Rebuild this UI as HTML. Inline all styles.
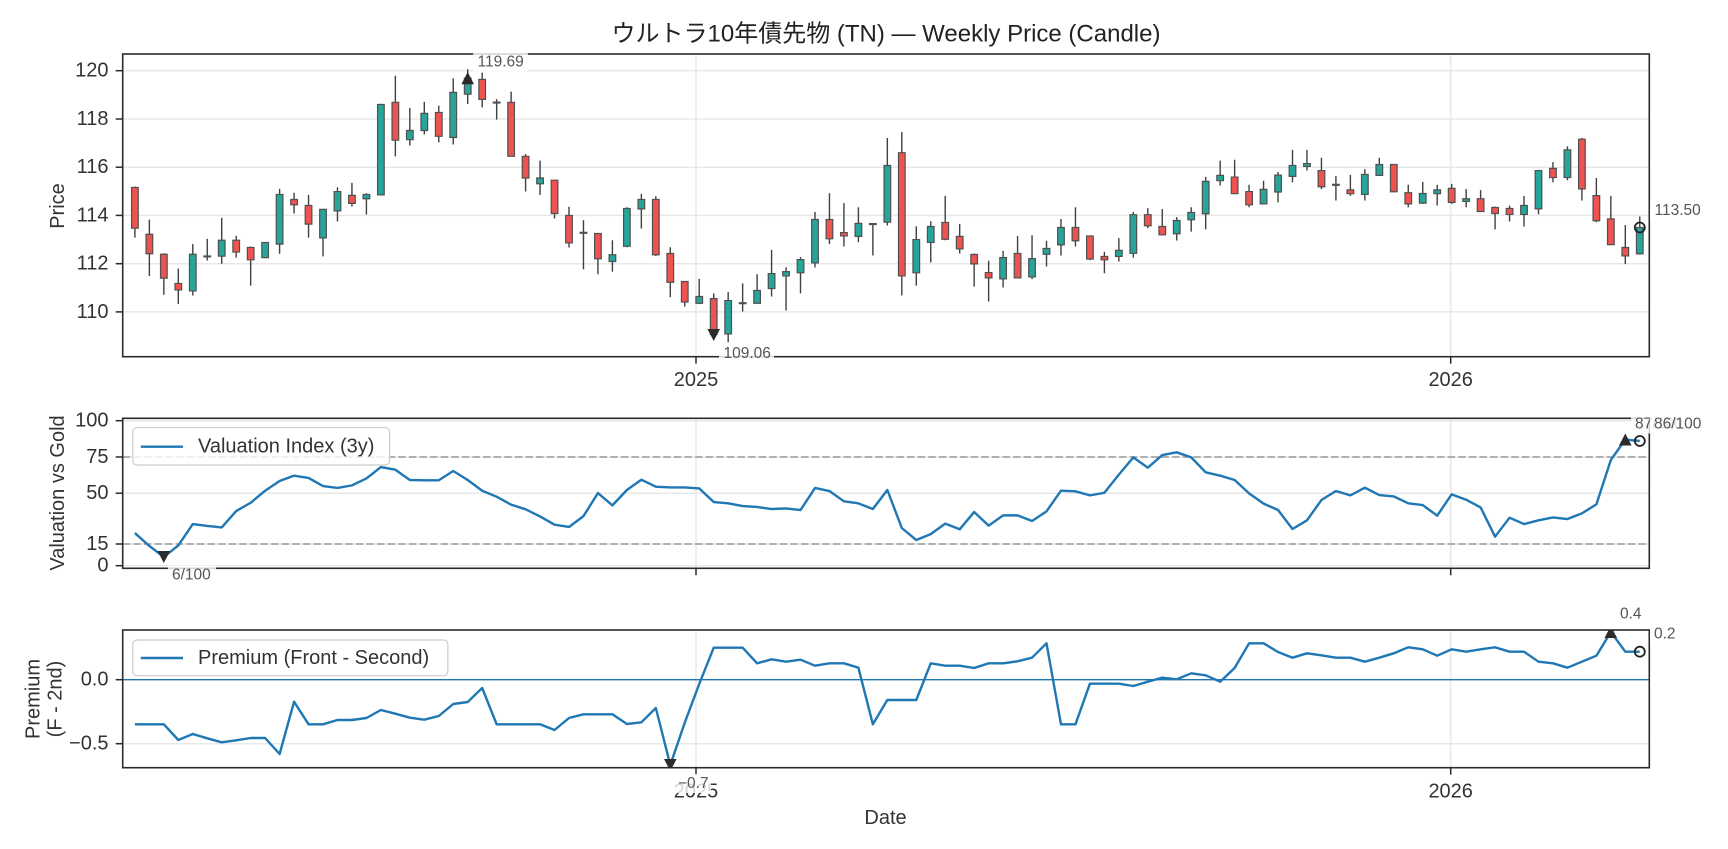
<!DOCTYPE html>
<html><head><meta charset="utf-8">
<style>
html,body{margin:0;padding:0;background:#fff;}
svg{display:block;}
text{font-family:"Liberation Sans","Noto Sans CJK JP",sans-serif;}
</style></head>
<body>
<svg width="1728" height="849" viewBox="0 0 1728 849" xmlns="http://www.w3.org/2000/svg">
<defs>
<clipPath id="c1"><rect x="122.7" y="54" width="1526.6" height="302.7"/></clipPath>
<clipPath id="c2"><rect x="122.7" y="418.3" width="1526.6" height="150"/></clipPath>
<clipPath id="c3"><rect x="122.7" y="630" width="1526.6" height="137.7"/></clipPath>
</defs>
<rect width="1728" height="849" fill="#fff"/>

<!-- Title -->
<text x="886" y="34" font-size="24" fill="#222" text-anchor="middle" dominant-baseline="central">ウルトラ10年債先物 (TN) — Weekly Price (Candle)</text>

<!-- ============ TOP PANEL ============ -->
<g stroke="#e8e8e8" stroke-width="1.5">
<line x1="122.7" x2="1649.3" y1="311.9" y2="311.9"/>
<line x1="122.7" x2="1649.3" y1="263.7" y2="263.7"/>
<line x1="122.7" x2="1649.3" y1="215.4" y2="215.4"/>
<line x1="122.7" x2="1649.3" y1="167.2" y2="167.2"/>
<line x1="122.7" x2="1649.3" y1="119.0" y2="119.0"/>
<line x1="122.7" x2="1649.3" y1="70.7" y2="70.7"/>
<line x1="696" x2="696" y1="54" y2="356.7"/>
<line x1="1450.7" x2="1450.7" y1="54" y2="356.7"/>
</g>
<g clip-path="url(#c1)">
<g transform="matrix(14.47 0 0 -24.12 134.9 2965.1)">
<path fill="none" stroke="#404040" stroke-width="1.4" vector-effect="non-scaling-stroke" d="M0 113.08V115.2M1 111.49V113.82M2 110.71V112.43M3 110.32V111.8M4 110.68V112.81M5 112.13V113.03M6 111.99V113.9M7 112.25V113.15M8 111.09V112.71M9 112.23V112.9M10 112.41V115.1M11 114.08V114.94M12 113.08V114.85M13 112.3V114.27M14 113.75V115.17M15 114.37V115.35M16 114.04V114.92M17 114.85V118.63M18 116.45V119.79M19 116.9V118.46M20 117.36V118.71M21 117.03V118.55M22 116.94V119.68M23 118.62V120.06M24 118.48V119.92M25 117.97V118.82M26 116.45V119.13M27 114.99V116.54M28 114.85V116.27M29 113.87V115.46M30 112.67V114.36M31 111.77V113.8M32 111.56V113.25M33 111.67V112.97M34 112.68V114.34M35 113.46V114.9M36 112.31V114.8M37 110.61V112.68M38 110.22V111.26M39 110.32V111.37M40 109.06V110.77M41 108.74V110.82M42 110.01V111.19M43 110.36V111.56M44 110.64V112.57M45 110.06V111.85M46 110.77V112.27M47 111.84V114.14M48 112.81V114.92M49 112.71V114.51M50 112.89V114.34M51 112.34V113.68M52 113.58V117.21M53 110.68V117.46M54 111.09V113.55M55 112.05V113.76M56 112.97V114.81M57 112.42V113.65M58 111.05V112.42M59 110.43V112.12M60 111.01V112.53M61 111.41V113.14M62 111.36V113.18M63 111.88V112.95M64 112.34V113.85M65 112.71V114.34M66 112.14V113.15M67 111.6V112.49M68 112.09V113.06M69 112.25V114.14M70 113.47V114.3M71 113.17V114.26M72 112.96V113.93M73 113.33V114.34M74 113.42V115.6M75 115.24V116.27M76 114.9V116.31M77 114.34V115.27M78 114.48V115.44M79 114.54V115.8M80 115.37V116.72M81 115.86V116.72M82 115.09V116.39M83 114.62V115.64M84 114.81V115.68M85 114.62V115.92M86 115.66V116.39M87 114.98V116.11M88 114.34V115.27M89 114.48V115.39M90 114.41V115.27M91 114.48V115.31M92 114.34V115.09M93 114.14V115.05M94 113.42V114.37M95 113.75V114.41M96 113.54V114.81M97 114.05V115.89M98 115.37V116.21M99 115.46V116.86M100 114.62V117.21M101 113.72V115.55M102 112.79V114.81M103 111.98V113.6M104 112.37V113.96"/>
<path fill="#26a69a" stroke="#505050" stroke-width="1.2" vector-effect="non-scaling-stroke" d="M3.77 110.87H4.23V112.39H3.77ZM4.77 112.28H5.23V112.32H4.77ZM5.77 112.31H6.23V112.97H5.77ZM8.77 112.25H9.23V112.88H8.77ZM9.77 112.81H10.23V114.87H9.77ZM12.77 113.07H13.23V114.25H12.77ZM13.77 114.19H14.23V114.99H13.77ZM15.77 114.69H16.23V114.87H15.77ZM16.77 114.85H17.23V118.6H16.77ZM18.77 117.14H19.23V117.52H18.77ZM19.77 117.52H20.23V118.23H19.77ZM21.77 117.23H22.23V119.1H21.77ZM22.77 119.03H23.23V119.69H22.77ZM24.77 118.66H25.23V118.7H24.77ZM27.77 115.31H28.23V115.55H27.77ZM30.77 113.26H31.23V113.3H30.77ZM32.77 112.09H33.23V112.37H32.77ZM33.77 112.72H34.23V114.29H33.77ZM34.77 114.27H35.23V114.66H34.77ZM38.77 110.36H39.23V110.64H38.77ZM40.77 109.09H41.23V110.47H40.77ZM41.77 110.34H42.23V110.38H41.77ZM42.77 110.36H43.23V110.89H42.77ZM43.77 110.97H44.23V111.59H43.77ZM44.77 111.49H45.23V111.67H44.77ZM45.77 111.62H46.23V112.17H45.77ZM46.77 112.03H47.23V113.83H46.77ZM49.77 113.13H50.23V113.67H49.77ZM51.77 113.72H52.23V116.07H51.77ZM53.77 111.62H54.23V113H53.77ZM54.77 112.88H55.23V113.54H54.77ZM59.77 111.37H60.23V112.25H59.77ZM61.77 111.45H62.23V112.21H61.77ZM62.77 112.39H63.23V112.63H62.77ZM63.77 112.78H64.23V113.5H63.77ZM67.77 112.3H68.23V112.55H67.77ZM68.77 112.43H69.23V114.03H68.77ZM71.77 113.24H72.23V113.79H71.77ZM72.77 113.82H73.23V114.12H72.77ZM73.77 114.07H74.23V115.41H73.77ZM74.77 115.44H75.23V115.66H74.77ZM77.77 114.48H78.23V115.08H77.77ZM78.77 114.97H79.23V115.67H78.77ZM79.77 115.62H80.23V116.07H79.77ZM80.77 116.03H81.23V116.15H80.77ZM82.77 115.25H83.23V115.29H82.77ZM84.77 114.87H85.23V115.7H84.77ZM85.77 115.66H86.23V116.11H85.77ZM88.77 114.51H89.23V114.91H88.77ZM89.77 114.9H90.23V115.06H89.77ZM91.77 114.58H92.23V114.69H91.77ZM95.77 114.04H96.23V114.41H95.77ZM96.77 114.27H97.23V115.86H96.77ZM98.77 115.57H99.23V116.72H98.77ZM103.77 112.41H104.23V113.5H103.77Z"/>
<path fill="#ef5350" stroke="#505050" stroke-width="1.2" vector-effect="non-scaling-stroke" d="M-0.23 115.16H0.23V113.47H-0.23ZM0.77 113.22H1.23V112.41H0.77ZM1.77 112.39H2.23V111.4H1.77ZM2.77 111.18H3.23V110.91H2.77ZM6.77 112.97H7.23V112.48H6.77ZM7.77 112.67H8.23V112.16H7.77ZM10.77 114.66H11.23V114.44H10.77ZM11.77 114.41H12.23V113.64H11.77ZM14.77 114.83H15.23V114.5H14.77ZM17.77 118.69H18.23V117.12H17.77ZM20.77 118.27H21.23V117.28H20.77ZM23.77 119.64H24.23V118.81H23.77ZM25.77 118.69H26.23V116.45H25.77ZM26.77 116.45H27.23V115.55H26.77ZM28.77 115.46H29.23V114.08H28.77ZM29.77 114H30.23V112.86H29.77ZM31.77 113.25H32.23V112.2H31.77ZM35.77 114.66H36.23V112.37H35.77ZM36.77 112.42H37.23V111.23H36.77ZM37.77 111.26H38.23V110.41H37.77ZM39.77 110.55H40.23V109.06H39.77ZM47.77 113.83H48.23V113.03H47.77ZM48.77 113.29H49.23V113.15H48.77ZM50.77 113.66H51.23V113.62H50.77ZM52.77 116.6H53.23V111.49H52.77ZM55.77 113.71H56.23V113.01H55.77ZM56.77 113.13H57.23V112.61H56.77ZM57.77 112.38H58.23V111.99H57.77ZM58.77 111.63H59.23V111.41H58.77ZM60.77 112.42H61.23V111.41H60.77ZM64.77 113.5H65.23V112.95H64.77ZM65.77 113.15H66.23V112.19H65.77ZM66.77 112.3H67.23V112.16H66.77ZM69.77 114.03H70.23V113.57H69.77ZM70.77 113.54H71.23V113.2H70.77ZM75.77 115.59H76.23V114.9H75.77ZM76.77 114.99H77.23V114.44H76.77ZM81.77 115.86H82.23V115.19H81.77ZM83.77 115.06H84.23V114.9H83.77ZM86.77 116.11H87.23V114.98H86.77ZM87.77 114.94H88.23V114.48H87.77ZM90.77 115.12H91.23V114.54H90.77ZM92.77 114.69H93.23V114.16H92.77ZM93.77 114.33H94.23V114.08H93.77ZM94.77 114.29H95.23V114.04H94.77ZM97.77 115.95H98.23V115.57H97.77ZM99.77 117.16H100.23V115.1H99.77ZM100.77 114.82H101.23V113.78H100.77ZM101.77 113.86H102.23V112.79H101.77ZM102.77 112.67H103.23V112.32H102.77Z"/>
</g>
<!-- markers -->
<polygon points="467.7,72 474,84.2 461.4,84.2" fill="#2b2b2b"/>
<polygon points="713.7,341 720,329 707.4,329" fill="#2b2b2b"/>
<circle cx="1639.8" cy="227.5" r="5" fill="none" stroke="#222" stroke-width="1.8"/>
</g>
<rect x="122.7" y="54" width="1526.6" height="302.7" fill="none" stroke="#2a2a2a" stroke-width="1.6"/>
<g stroke="#2a2a2a" stroke-width="1.5">
<line x1="115.7" x2="122.7" y1="311.9" y2="311.9"/>
<line x1="115.7" x2="122.7" y1="263.7" y2="263.7"/>
<line x1="115.7" x2="122.7" y1="215.4" y2="215.4"/>
<line x1="115.7" x2="122.7" y1="167.2" y2="167.2"/>
<line x1="115.7" x2="122.7" y1="119.0" y2="119.0"/>
<line x1="115.7" x2="122.7" y1="70.7" y2="70.7"/>
<line x1="696" x2="696" y1="356.7" y2="363.7"/>
<line x1="1450.7" x2="1450.7" y1="356.7" y2="363.7"/>
</g>
<g font-size="20" fill="#333" text-anchor="end" dominant-baseline="central">
<text x="108.5" y="311.9">110</text>
<text x="108.5" y="263.7">112</text>
<text x="108.5" y="215.4">114</text>
<text x="108.5" y="167.2">116</text>
<text x="108.5" y="119.0">118</text>
<text x="108.5" y="70.7">120</text>
</g>
<g font-size="20" fill="#333" text-anchor="middle" dominant-baseline="central">
<text x="696" y="380">2025</text>
<text x="1450.7" y="380">2026</text>
</g>
<text transform="translate(58,206) rotate(-90)" font-size="20" fill="#333" text-anchor="middle" dominant-baseline="central">Price</text>
<!-- annotations top -->
<g font-size="15.5" fill="#555" dominant-baseline="central">
<rect x="473" y="52.5" width="55" height="19" rx="2" fill="#fff" fill-opacity="0.8"/>
<text x="477.5" y="62">119.69</text>
<rect x="719" y="344" width="55" height="19" rx="2" fill="#fff" fill-opacity="0.8"/>
<text x="723.5" y="353.5">109.06</text>
<rect x="1650" y="201" width="55" height="19" rx="2" fill="#fff" fill-opacity="0.8"/>
<text x="1654.5" y="210.5">113.50</text>
</g>

<!-- ============ MIDDLE PANEL ============ -->
<g stroke="#e8e8e8" stroke-width="1.5">
<line x1="122.7" x2="1649.3" y1="420.7" y2="420.7"/>
<line x1="122.7" x2="1649.3" y1="457" y2="457"/>
<line x1="122.7" x2="1649.3" y1="493.2" y2="493.2"/>
<line x1="122.7" x2="1649.3" y1="544" y2="544"/>
<line x1="122.7" x2="1649.3" y1="565.7" y2="565.7"/>
<line x1="696" x2="696" y1="418.3" y2="568.3"/>
<line x1="1450.7" x2="1450.7" y1="418.3" y2="568.3"/>
</g>
<g stroke="#999" stroke-width="1.6" stroke-dasharray="7.4 3.2">
<line x1="122.7" x2="1649.3" y1="457" y2="457"/>
<line x1="122.7" x2="1649.3" y1="544" y2="544"/>
</g>
<g clip-path="url(#c2)">
<polyline transform="matrix(14.47 0 0 -1.45 134.9 565.7)" fill="none" stroke="#1f77b4" stroke-width="2.4" stroke-linejoin="round" vector-effect="non-scaling-stroke" points="0,22.5 1,13.6 2,6 3,14 4,28.7 5,27.4 6,26.4 7,37.7 8,43.4 9,51.7 10,58.4 11,62.1 12,60.5 13,54.9 14,53.6 15,55.4 16,60.2 17,68 18,66.2 19,59.1 20,58.9 21,58.9 22,65.3 23,59.1 24,51.7 25,47.6 26,42.1 27,38.9 28,34 29,28.3 30,26.7 31,34.2 32,50.1 33,41.6 34,52.2 35,59.3 36,54.5 37,54 38,54 39,53.3 40,43.9 41,43 42,41.1 43,40.5 44,39.1 45,39.5 46,38.4 47,53.6 48,51.5 49,44.4 50,43 51,39.1 52,52.2 53,26 54,17.7 55,21.8 56,29 57,25.1 58,37 59,27.6 60,34.7 61,34.7 62,30.8 63,37.5 64,51.7 65,51.3 66,48.5 67,50.3 68,62.8 69,74.7 70,67.6 71,76.3 72,78.2 73,74.7 74,64.4 75,62.1 76,59.1 77,49.9 78,42.8 79,38.4 80,25.3 81,31.3 82,45.3 83,51.5 84,48.5 85,53.8 86,48.7 87,47.8 88,43 89,41.8 90,34.5 91,49.2 92,45.5 93,40.2 94,20 95,33.1 96,28.7 97,31.3 98,33.3 99,32.2 100,36.1 101,42.3 102,72.9 103,87 104,86"/>
<polygon points="163.8,563 170.1,551 157.5,551" fill="#2b2b2b"/>
<polygon points="1625.3,433.5 1631.6,445.5 1619,445.5" fill="#2b2b2b"/>
<circle cx="1639.8" cy="441" r="5" fill="none" stroke="#222" stroke-width="1.8"/>
</g>
<rect x="122.7" y="418.3" width="1526.6" height="150" fill="none" stroke="#2a2a2a" stroke-width="1.6"/>
<g stroke="#2a2a2a" stroke-width="1.5">
<line x1="115.7" x2="122.7" y1="420.7" y2="420.7"/>
<line x1="115.7" x2="122.7" y1="457" y2="457"/>
<line x1="115.7" x2="122.7" y1="493.2" y2="493.2"/>
<line x1="115.7" x2="122.7" y1="544" y2="544"/>
<line x1="115.7" x2="122.7" y1="565.7" y2="565.7"/>
<line x1="696" x2="696" y1="568.3" y2="575.3"/>
<line x1="1450.7" x2="1450.7" y1="568.3" y2="575.3"/>
</g>
<g font-size="20" fill="#333" text-anchor="end" dominant-baseline="central">
<text x="108.5" y="420.7">100</text>
<text x="108.5" y="457">75</text>
<text x="108.5" y="493.2">50</text>
<text x="108.5" y="544">15</text>
<text x="108.5" y="565.7">0</text>
</g>
<text transform="translate(58,493) rotate(-90)" font-size="20" fill="#333" text-anchor="middle" dominant-baseline="central">Valuation vs Gold</text>
<!-- legend -->
<rect x="132.8" y="427.7" width="256.8" height="37.3" rx="4" fill="#fff" fill-opacity="0.8" stroke="#cccccc" stroke-width="1.2"/>
<line x1="140.8" x2="183" y1="446.7" y2="446.7" stroke="#1f77b4" stroke-width="2.4"/>
<text x="198" y="446.7" font-size="20" fill="#333" dominant-baseline="central">Valuation Index (3y)</text>
<!-- annotations -->
<g font-size="15.5" fill="#555" dominant-baseline="central">
<rect x="168" y="565.5" width="48" height="19" rx="2" fill="#fff" fill-opacity="0.8"/>
<text x="172" y="575">6/100</text>
<rect x="1631" y="414.5" width="55" height="19" rx="2" fill="#fff" fill-opacity="0.8"/>
<text x="1635" y="424">87/100</text>
<rect x="1650" y="414.5" width="55" height="19" rx="2" fill="#fff" fill-opacity="0.8"/>
<text x="1654" y="424">86/100</text>
</g>

<!-- ============ BOTTOM PANEL ============ -->
<g stroke="#e8e8e8" stroke-width="1.5">
<line x1="122.7" x2="1649.3" y1="679.7" y2="679.7"/>
<line x1="122.7" x2="1649.3" y1="743.7" y2="743.7"/>
<line x1="696" x2="696" y1="630" y2="767.7"/>
<line x1="1450.7" x2="1450.7" y1="630" y2="767.7"/>
</g>
<line x1="122.7" x2="1649.3" y1="679.7" y2="679.7" stroke="#1f77b4" stroke-width="1.4"/>
<g clip-path="url(#c3)">
<polyline transform="matrix(14.47 0 0 1 134.9 0)" fill="none" stroke="#1f77b4" stroke-width="2.4" stroke-linejoin="round" vector-effect="non-scaling-stroke" points="0,724.3 1,724.3 2,724.3 3,740 4,734 5,738.3 6,742.3 7,740.3 8,738 9,738 10,754 11,701.7 12,724.3 13,724.3 14,720 15,720 16,718 17,710 18,713.7 19,717.7 20,719.7 21,716 22,704 23,702 24,688 25,724.3 26,724.3 27,724.3 28,724.3 29,730 30,718 31,714.3 32,714.3 33,714.3 34,724 35,722.3 36,708 37,765 38,722.7 39,684 40,647.7 41,647.7 42,647.7 43,663.3 44,659.3 45,661.7 46,659.7 47,665.7 48,663.3 49,663.3 50,667.7 51,724.3 52,700 53,700 54,700 55,663.3 56,665.7 57,665.7 58,668 59,663.3 60,663.3 61,661.3 62,657.7 63,643.3 64,724.3 65,724.3 66,683.7 67,683.7 68,683.7 69,686 70,681.7 71,677.7 72,679.3 73,673.3 74,675.3 75,681.7 76,668 77,643.3 78,643.3 79,652 80,657.7 81,653.3 82,655.3 83,657.7 84,657.7 85,661.7 86,657.7 87,653.3 88,647.3 89,649.3 90,655.7 91,649.3 92,651.7 93,649.3 94,647.3 95,651.7 96,651.7 97,661.7 98,663.3 99,667.7 100,661.7 101,655.7 102,632 103,651.7 104,651.7"/>
<polygon points="670.3,771 676.6,759 664,759" fill="#2b2b2b"/>
<polygon points="1610.8,626 1617.1,638 1604.5,638" fill="#2b2b2b"/>
<circle cx="1639.8" cy="651.7" r="5" fill="none" stroke="#222" stroke-width="1.8"/>
</g>
<rect x="122.7" y="630" width="1526.6" height="137.7" fill="none" stroke="#2a2a2a" stroke-width="1.6"/>
<g stroke="#2a2a2a" stroke-width="1.5">
<line x1="115.7" x2="122.7" y1="679.7" y2="679.7"/>
<line x1="115.7" x2="122.7" y1="743.7" y2="743.7"/>
<line x1="696" x2="696" y1="767.7" y2="774.7"/>
<line x1="1450.7" x2="1450.7" y1="767.7" y2="774.7"/>
</g>
<g font-size="20" fill="#333" text-anchor="end" dominant-baseline="central">
<text x="108.5" y="679.7">0.0</text>
<text x="108.5" y="743.7">−0.5</text>
</g>
<g font-size="20" fill="#333" text-anchor="middle" dominant-baseline="central">
<text x="696" y="791.5">2025</text>
<text x="1450.7" y="791.5">2026</text>
<text x="885.5" y="818">Date</text>
</g>
<text transform="translate(33.5,699) rotate(-90)" font-size="20" fill="#333" text-anchor="middle" dominant-baseline="central">Premium</text>
<text transform="translate(55.5,699) rotate(-90)" font-size="20" fill="#333" text-anchor="middle" dominant-baseline="central">(F - 2nd)</text>
<!-- legend -->
<rect x="132.8" y="640" width="315" height="35.7" rx="4" fill="#fff" fill-opacity="0.8" stroke="#cccccc" stroke-width="1.2"/>
<line x1="140.8" x2="183" y1="658" y2="658" stroke="#1f77b4" stroke-width="2.4"/>
<text x="198" y="658" font-size="20" fill="#333" dominant-baseline="central">Premium (Front - Second)</text>
<!-- annotations -->
<g font-size="15.5" fill="#555" dominant-baseline="central">
<rect x="675" y="774" width="36" height="19" rx="2" fill="#fff" fill-opacity="0.8"/>
<text x="678" y="783.5">−0.7</text>
<rect x="1616" y="604.5" width="30" height="19" rx="2" fill="#fff" fill-opacity="0.8"/>
<text x="1620" y="614">0.4</text>
<rect x="1650" y="624.5" width="30" height="19" rx="2" fill="#fff" fill-opacity="0.8"/>
<text x="1654" y="634">0.2</text>
</g>
</svg>
</body></html>
